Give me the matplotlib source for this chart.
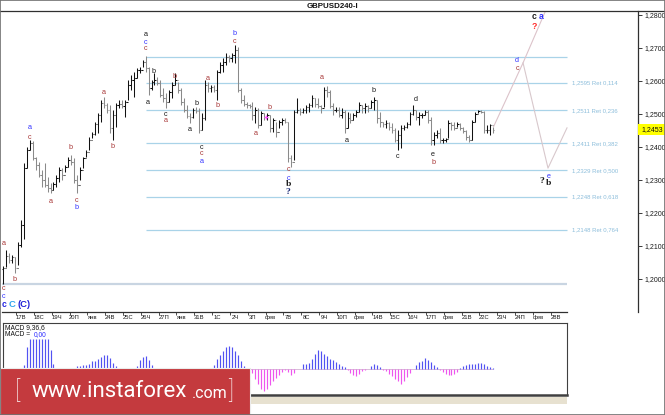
import matplotlib
matplotlib.use("Agg")
import matplotlib.pyplot as plt
from matplotlib.collections import LineCollection
from matplotlib.patches import Rectangle
from matplotlib.lines import Line2D

# ---------------- data (H4 bars) ----------------
bar_high = [
    1.2039, 1.2088, 1.2079, 1.2073, 1.2067, 1.2112, 1.2179, 1.2352, 1.2400, 1.2421,
    1.2418, 1.2370, 1.2355, 1.2330, 1.2352, 1.2309, 1.2291, 1.2294, 1.2315, 1.2339,
    1.2336, 1.2345, 1.2370, 1.2376, 1.2367, 1.2315, 1.2339, 1.2370, 1.2391, 1.2430,
    1.2445, 1.2476, 1.2503, 1.2542, 1.2552, 1.2533, 1.2527, 1.2512, 1.2533, 1.2542,
    1.2542, 1.2542, 1.2603, 1.2618, 1.2627, 1.2639, 1.2642, 1.2664, 1.2676, 1.2642,
    1.2603, 1.2624, 1.2612, 1.2603, 1.2579, 1.2564, 1.2573, 1.2597, 1.2624, 1.2597,
    1.2579, 1.2548, 1.2527, 1.2503, 1.2518, 1.2521, 1.2518, 1.2503, 1.2603, 1.2597,
    1.2588, 1.2588, 1.2633, 1.2658, 1.2670, 1.2685, 1.2679, 1.2685, 1.2709, 1.2703,
    1.2579, 1.2558, 1.2536, 1.2530, 1.2536, 1.2521, 1.2518, 1.2509, 1.2503, 1.2503,
    1.2497, 1.2488, 1.2476, 1.2482, 1.2488, 1.2488, 1.2476, 1.2376, 1.2512, 1.2548,
    1.2518, 1.2518, 1.2527, 1.2533, 1.2558, 1.2548, 1.2548, 1.2527, 1.2582, 1.2585,
    1.2573, 1.2533, 1.2521, 1.2521, 1.2518, 1.2512, 1.2506, 1.2503, 1.2503, 1.2512,
    1.2536, 1.2527, 1.2533, 1.2527, 1.2542, 1.2552, 1.2542, 1.2506, 1.2476, 1.2482,
    1.2476, 1.2473, 1.2458, 1.2452, 1.2467, 1.2467, 1.2476, 1.2506, 1.2527, 1.2512,
    1.2506, 1.2503, 1.2512, 1.2512, 1.2491, 1.2445, 1.2452, 1.2458, 1.2427, 1.2427,
    1.2482, 1.2476, 1.2476, 1.2476, 1.2473, 1.2461, 1.2452, 1.2436, 1.2482, 1.2506,
    1.2512, 1.2512, 1.2509, 1.2467, 1.2470, 1.2461,
]
bar_low = [
    1.1985, 1.2036, 1.2048, 1.2048, 1.2018, 1.2042, 1.2097, 1.2121, 1.2336, 1.2391,
    1.2361, 1.2330, 1.2309, 1.2279, 1.2279, 1.2264, 1.2261, 1.2270, 1.2279, 1.2294,
    1.2300, 1.2324, 1.2339, 1.2345, 1.2291, 1.2261, 1.2300, 1.2336, 1.2370, 1.2391,
    1.2427, 1.2436, 1.2442, 1.2476, 1.2518, 1.2503, 1.2442, 1.2421, 1.2461, 1.2518,
    1.2518, 1.2491, 1.2542, 1.2573, 1.2552, 1.2609, 1.2624, 1.2642, 1.2627, 1.2558,
    1.2573, 1.2588, 1.2588, 1.2552, 1.2536, 1.2518, 1.2536, 1.2548, 1.2588, 1.2564,
    1.2527, 1.2506, 1.2488, 1.2473, 1.2488, 1.2503, 1.2442, 1.2452, 1.2482, 1.2567,
    1.2567, 1.2567, 1.2542, 1.2624, 1.2627, 1.2648, 1.2658, 1.2658, 1.2655, 1.2567,
    1.2533, 1.2524, 1.2518, 1.2518, 1.2482, 1.2473, 1.2458, 1.2467, 1.2482, 1.2482,
    1.2445, 1.2445, 1.2430, 1.2458, 1.2467, 1.2473, 1.2355, 1.2339, 1.2361, 1.2503,
    1.2497, 1.2503, 1.2503, 1.2506, 1.2521, 1.2521, 1.2518, 1.2503, 1.2521, 1.2552,
    1.2518, 1.2497, 1.2506, 1.2491, 1.2488, 1.2442, 1.2458, 1.2473, 1.2482, 1.2491,
    1.2506, 1.2503, 1.2503, 1.2506, 1.2518, 1.2512, 1.2473, 1.2461, 1.2461, 1.2458,
    1.2452, 1.2442, 1.2415, 1.2391, 1.2397, 1.2452, 1.2458, 1.2467, 1.2497, 1.2482,
    1.2467, 1.2488, 1.2497, 1.2473, 1.2406, 1.2406, 1.2427, 1.2412, 1.2412, 1.2415,
    1.2427, 1.2452, 1.2452, 1.2461, 1.2452, 1.2442, 1.2421, 1.2415, 1.2421, 1.2476,
    1.2503, 1.2503, 1.2442, 1.2442, 1.2436, 1.2442,
]
bar_close = [
    1.2033, 1.2070, 1.2058, 1.2067, 1.2033, 1.2103, 1.2164, 1.2336, 1.2391, 1.2412,
    1.2367, 1.2345, 1.2315, 1.2300, 1.2285, 1.2276, 1.2270, 1.2288, 1.2306, 1.2330,
    1.2315, 1.2339, 1.2361, 1.2355, 1.2300, 1.2285, 1.2330, 1.2367, 1.2385, 1.2421,
    1.2439, 1.2470, 1.2497, 1.2533, 1.2527, 1.2512, 1.2458, 1.2497, 1.2527, 1.2530,
    1.2524, 1.2536, 1.2588, 1.2603, 1.2609, 1.2633, 1.2633, 1.2658, 1.2639, 1.2579,
    1.2597, 1.2603, 1.2594, 1.2558, 1.2548, 1.2536, 1.2567, 1.2588, 1.2603, 1.2573,
    1.2536, 1.2512, 1.2494, 1.2491, 1.2512, 1.2509, 1.2452, 1.2488, 1.2588, 1.2579,
    1.2582, 1.2573, 1.2627, 1.2648, 1.2658, 1.2673, 1.2670, 1.2679, 1.2694, 1.2573,
    1.2542, 1.2530, 1.2527, 1.2524, 1.2497, 1.2512, 1.2467, 1.2503, 1.2491, 1.2497,
    1.2458, 1.2482, 1.2445, 1.2476, 1.2482, 1.2476, 1.2367, 1.2355, 1.2506, 1.2512,
    1.2506, 1.2512, 1.2521, 1.2527, 1.2548, 1.2530, 1.2524, 1.2518, 1.2573, 1.2567,
    1.2524, 1.2512, 1.2512, 1.2497, 1.2506, 1.2458, 1.2488, 1.2482, 1.2497, 1.2506,
    1.2527, 1.2518, 1.2524, 1.2518, 1.2536, 1.2542, 1.2488, 1.2476, 1.2470, 1.2473,
    1.2461, 1.2452, 1.2421, 1.2436, 1.2458, 1.2461, 1.2470, 1.2500, 1.2512, 1.2491,
    1.2497, 1.2497, 1.2506, 1.2482, 1.2421, 1.2436, 1.2442, 1.2421, 1.2421, 1.2424,
    1.2473, 1.2467, 1.2458, 1.2470, 1.2458, 1.2448, 1.2430, 1.2421, 1.2476, 1.2500,
    1.2509, 1.2506, 1.2452, 1.2452, 1.2467, 1.2453,
]
first_open = 1.2030

# MACD(9,36,6) histogram, in units of 0.0001
macd_pips = [
    -1, -1, -1, -1, -1, -1, -1, 4, 22, 30,
    30, 30, 30, 30, 30, 30, 19, 5, -1, -1,
    -1, -1, -1, -1, -1, 3, 3, 4, 4, 5,
    8, 8, 10, 12, 14, 14, 11, 6, 3, -1,
    -1, -1, -1, -1, -1, 3, 9, 12, 13, 9,
    4, -1, -1, -1, -1, -1, -1, -1, -1, -1,
    -1, -1, -1, -1, -1, -1, -1, -1, -1, -1,
    -1, 4, 10, 14, 18, 22, 23, 22, 18, 14,
    8, 3, -1, -1, -4, -10, -15, -20, -22, -20,
    -16, -12, -9, -6, -3, -1, -3, -6, -4, 0,
    0, 5, 5, 6, 10, 15, 19, 18, 15, 13,
    10, 9, 7, 5, 3, 2, -1, -4, -6, -7,
    -5, -2, -1, 0, 3, 5, 4, 2, -1, -2,
    -5, -7, -10, -12, -15, -12, -8, -4, 0, 4,
    7, 8, 11, 9, 7, 4, 2, -1, -3, -5,
    -6, -6, -5, -3, 1, 3, 4, 5, 5, 5,
    6, 6, 5, 3, 2, 1,
]

day_labels = ["17В", "18С", "19Ч", "20П", "янв", "24В", "25С", "26Ч", "27П", "янв",
              "31В", "1С", "2Ч", "3П", "фев", "7В", "8С", "9Ч", "10П", "фев",
              "14В", "15С", "16Ч", "17П", "фев", "21В", "22С", "23Ч", "24П", "фев", "28В"]
price_ticks = [1.20, 1.21, 1.22, 1.23, 1.24, 1.25, 1.26, 1.27, 1.28]

fib_levels = [1.2595, 1.2511, 1.2411, 1.2329, 1.2248, 1.2148]
fib_ratios = [0.114, 0.236, 0.382, 0.500, 0.618, 0.764]
fib_high = 1.2674
fib_low = 1.1985

proj_up_bar = [165.2, 175.1, 182.5]
proj_up_price = [1.2462, 1.2655, 1.2809]
proj_alt_bar = [175.1, 183.5, 189.9]
proj_alt_price = [1.2655, 1.2336, 1.2458]
last_price = 1.2453

RED, BLU, BLK = "#a83838", "#3434ff", "#1a1a1a"
wave_labels = [
    ("a", 48.1, 1.2742, BLK, "s"), ("c", 48.1, 1.2718, BLU, "s"), ("c", 48.1, 1.2697, RED, "s"),
    ("b", 50.8, 1.2630, BLK, "s"), ("a", 48.8, 1.2536, BLK, "s"), ("b", 57.9, 1.2615, RED, "s"),
    ("c", 54.9, 1.2497, BLK, "s"), ("a", 54.9, 1.2479, RED, "s"), ("b", 65.0, 1.2533, BLK, "s"),
    ("a", 63.0, 1.2452, BLK, "s"), ("c", 66.7, 1.2400, BLK, "s"), ("c", 66.7, 1.2379, RED, "s"),
    ("a", 67.0, 1.2355, BLU, "s"), ("a", 69.0, 1.2609, RED, "s"), ("b", 72.1, 1.2527, RED, "s"),
    ("b", 77.8, 1.2745, BLU, "s"), ("c", 77.8, 1.2721, RED, "s"), ("b", 89.9, 1.2521, RED, "s"),
    ("a", 85.2, 1.2442, RED, "s"), ("a", 107.4, 1.2612, RED, "s"), ("a", 9.1, 1.2458, BLU, "s"),
    ("c", 9.1, 1.2430, RED, "s"), ("b", 22.9, 1.2397, RED, "s"), ("a", 34.0, 1.2564, RED, "s"),
    ("b", 37.0, 1.2403, RED, "s"), ("a", 0.3, 1.2109, RED, "s"), ("b", 4.0, 1.2000, RED, "s"),
    ("c", 0.3, 1.1970, RED, "s"), ("c", 0.3, 1.1948, BLU, "s"), ("c", 0.3, 1.1924, "#2020e0", "sb"),
    ("C", 3.0, 1.1924, "#2fa6ee", "big"), ("(C)", 7.1, 1.1924, "#1f1fd6", "big"),
    ("a", 16.2, 1.2236, RED, "s"), ("c", 24.9, 1.2239, RED, "s"), ("b", 24.9, 1.2218, BLU, "s"),
    ("c", 96.0, 1.2333, RED, "s"), ("c", 96.0, 1.2306, BLU, "s"), ("b", 96.0, 1.2288, BLK, "serif"),
    ("?", 96.0, 1.2264, "#1c2c78", "serif"), ("a", 115.8, 1.2421, BLK, "s"),
    ("b", 124.9, 1.2570, BLK, "s"), ("d", 139.1, 1.2545, BLK, "s"), ("c", 133.0, 1.2370, BLK, "s"),
    ("e", 144.8, 1.2376, BLK, "s"), ("b", 144.8, 1.2352, RED, "s"), ("d", 173.1, 1.2661, BLU, "s"),
    ("c", 173.1, 1.2639, RED, "s"), ("c", 178.8, 1.2794, BLK, "sb"), ("a", 181.1, 1.2794, BLU, "sb"),
    ("?", 178.8, 1.2764, "#ff2a2a", "sb"), ("?", 181.5, 1.2297, BLK, "serif"),
    ("e", 183.8, 1.2312, BLU, "s"), ("b", 183.8, 1.2291, BLK, "serif"),
]
marker_bar, marker_price = 88.6, 1.2491

# ---------------- layout ----------------
W, H = 665, 415
BAR_PX, X0_PX = 2.97, 3.0


def bar_of(px):
    return (px - X0_PX) / BAR_PX


def frect(l, t, r, b):
    return [l / W, 1 - b / H, (r - l) / W, (b - t) / H]


plt.rcParams["font.family"] = ["DejaVu Sans"]
fig = plt.figure(figsize=(W / 100, H / 100), dpi=100)
fig.patch.set_facecolor("white")

# ---------------- main price chart ----------------
ax = fig.add_axes(frect(2, 11, 638, 312))
ax.set_facecolor("white")
ax.set_xlim(bar_of(2), bar_of(638))
ax.set_ylim(1.28 - (312 - 15) / 3300, 1.28 + 4 / 3300)
for s in ("top", "left", "bottom"):
    ax.spines[s].set_visible(False)
ax.spines["right"].set_color("#303030")
ax.spines["right"].set_linewidth(0.9)
ax.plot([0, (567 - 2) / 636], [0, 0], transform=ax.transAxes, color="#303030", lw=0.9, clip_on=False)

# fibonacci levels
fib_start, fib_end = bar_of(146), bar_of(567)
ax.hlines([fib_high] + fib_levels, fib_start, fib_end, colors="#a9d3e8", lw=0.9, zorder=1)
ax.hlines(fib_low, bar_of(1), fib_end, colors="#c9d5e2", lw=1.6, zorder=1)
for lv, r in zip(fib_levels, fib_ratios):
    ax.text(bar_of(572), lv, f"{lv:.4f} Ret {r:.3f}".replace(".", ","), fontsize=4.3,
            family="Liberation Sans", color="#8dbedb", va="center", ha="left")

# bars
n = len(bar_close)
opens = [first_open] + bar_close[:-1]
segs, cols = [], []
for i in range(n):
    c = "#111111" if bar_close[i] >= opens[i] else "#8a8a8a"
    segs += [[(i, bar_low[i]), (i, bar_high[i])],
             [(i - 0.45, opens[i]), (i, opens[i])],
             [(i, bar_close[i]), (i + 0.45, bar_close[i])]]
    cols += [c, c, c]
ax.add_collection(LineCollection(segs, colors=cols, linewidths=0.75, zorder=3))

# projected wave paths
ax.plot(proj_up_bar, proj_up_price, color="#dcc3ca", lw=0.8, zorder=2)
ax.plot(proj_alt_bar, proj_alt_price, color="#d8c8cc", lw=0.8, zorder=2)
ax.plot([marker_bar], [marker_price], marker="+", ms=3, color="#ff55ff", mew=0.9, zorder=4)

# wave labels
for txt, b, p, col, sty in wave_labels:
    kw = dict(color=col, ha="center", va="center", zorder=5, clip_on=False)
    if sty == "s":
        ax.text(b, p, txt, fontsize=5.2, family="Liberation Sans", **kw)
    elif sty == "sb":
        ax.text(b, p, txt, fontsize=6.2, family="Liberation Sans", weight="bold", **kw)
    elif sty == "big":
        ax.text(b, p, txt, fontsize=6.8, family="Liberation Sans", weight="bold", **kw)
    else:
        ax.text(b, p, txt, fontsize=6.8, family="Liberation Serif", weight="bold", **kw)

# axes ticks
ax.yaxis.tick_right()
ax.set_yticks(price_ticks)
ax.set_yticklabels([f"{p:.4f}".replace(".", ",") for p in price_ticks], family="Liberation Sans")
ax.tick_params(axis="y", length=3, width=0.6, pad=1.5, labelsize=5, colors="#1a1a1a")
ax.set_xticks([6.1 + 6 * k for k in range(len(day_labels))])
ax.set_xticklabels(day_labels, family="Liberation Sans")
ax.set_xticks([4.4 + 6 * k for k in range(len(day_labels))], minor=True)
ax.tick_params(axis="x", which="major", length=0, pad=1.8, labelsize=4.2, colors="#1a1a1a")
ax.tick_params(axis="x", which="minor", length=2.5, width=0.6, color="#303030")

# current price tag
fig.add_artist(Rectangle((638 / W, 1 - 135 / H), 27 / W, 11 / H, transform=fig.transFigure,
                         facecolor="#ffff00", edgecolor="none", zorder=6))
fig.text(641 / W, 1 - 129.5 / H, f"{last_price:.4f}".replace(".", ","), fontsize=5,
         family="Liberation Sans", va="center", ha="left", color="#111111", zorder=7)

# title strip
fig.add_artist(Line2D([0, 1], [1 - 11 / H, 1 - 11 / H], color="#303030", lw=0.9))
fig.text(332 / W, 1 - 6 / H, "GBPUSD240-I", fontsize=5.7, weight="bold",
         family="Liberation Sans", ha="center", va="center", color="#111111")

# ---------------- MACD panel ----------------
ax2 = fig.add_axes(frect(3, 323, 567, 395))
ax2.set_xlim(bar_of(3), bar_of(567))
ax2.set_ylim(-26, 46)
ax2.set_xticks([])
ax2.set_yticks([])
for s in ax2.spines.values():
    s.set_color("#404040")
    s.set_linewidth(0.8)
ax2.spines["bottom"].set_linewidth(1.8)
ax2.hlines(0, 0, n - 1, colors="#d9bcd9", lw=0.7, zorder=1)
pos_i = [i for i in range(n) if macd_pips[i] > 0]
neg_i = [i for i in range(n) if macd_pips[i] < 0]
ax2.vlines(pos_i, 0, [macd_pips[i] for i in pos_i], colors="#5252f2", lw=0.85, zorder=2)
ax2.vlines(neg_i, 0, [macd_pips[i] for i in neg_i], colors="#ee55ee", lw=0.85, zorder=2)
ax2.text(bar_of(5), 46 - 4.5, "MACD 9,36,6", fontsize=4.8, family="Liberation Sans",
         va="center", ha="left", color="#111111")
ax2.text(bar_of(5), 46 - 11.5, "MACD =", fontsize=4.8, family="Liberation Sans",
         va="center", ha="left", color="#111111")
ax2.text(bar_of(33.5), 46 - 11.5, "0,00", fontsize=4.8, family="Liberation Sans",
         va="center", ha="left", color="#2a2aff")

# beige strip under the panel
fig.add_artist(Rectangle((250 / W, 1 - 404 / H), 317 / W, 7 / H, transform=fig.transFigure,
                         facecolor="#e7e1d0", edgecolor="none", zorder=3))

# logo
fig.add_artist(Rectangle((0, 0), 250 / W, 47 / H, transform=fig.transFigure,
                         facecolor="#c43a3e", edgecolor="#ececec", lw=0.8, zorder=8))
fig.text(17 / W, 1 - 391 / H, "[", fontsize=17, color="white", family="Roboto",
         weight="light", ha="center", va="center", zorder=9)
fig.text(32 / W, 1 - 391 / H, "www.instaforex", fontsize=16, color="white", family="Roboto",
         ha="left", va="center", zorder=9)
fig.text(192 / W, 1 - 393 / H, ".com", fontsize=11.5, color="white", family="Roboto",
         ha="left", va="center", zorder=9)
fig.text(231 / W, 1 - 391 / H, "]", fontsize=17, color="white", family="Roboto",
         weight="light", ha="center", va="center", zorder=9)

# outer frame
fig.add_artist(Rectangle((0, 0), 1, 1, transform=fig.transFigure, fill=False,
                         edgecolor="#707070", lw=1.2, zorder=10))

fig.savefig("out.png", dpi=100, facecolor="white")
